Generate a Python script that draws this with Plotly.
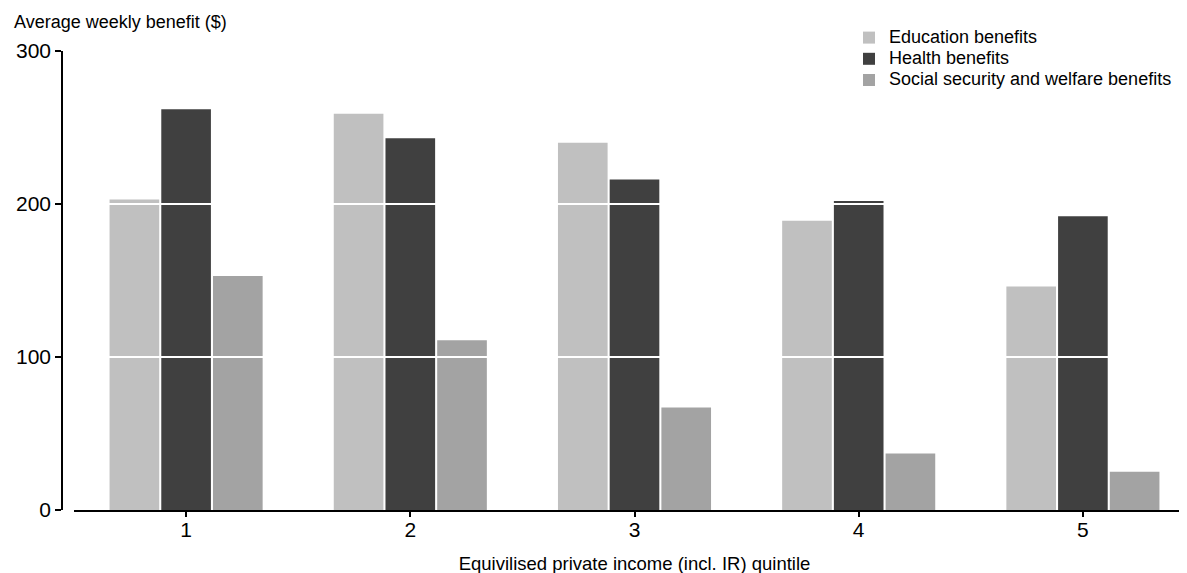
import plotly.graph_objects as go

quintiles = ["1", "2", "3", "4", "5"]
education = [203, 259, 240, 189, 146]
health = [262, 243, 216, 202, 192]
social = [153, 111, 67, 37, 25]
series_names = ["Education benefits", "Health benefits", "Social security and welfare benefits"]
series_colors = ["#c0c0c0", "#404040", "#a3a3a3"]
y_ticks = [0, 100, 200, 300]

W, H = 1187, 573
OFF = 8  # page body margin offset
ML, MR, MT, MB = 62 - OFF, 0, 51 - OFF, 573 - 510 + OFF
FONT = "Liberation Sans, Arial, sans-serif"

fig = go.Figure()
for name, vals, col in zip(series_names, [education, health, social], series_colors):
    fig.add_trace(go.Bar(x=quintiles, y=vals, name=f'<span style="font-size:18px">{name}</span>',
                         marker=dict(color=col, line=dict(width=0))))

plot_w = W - ML - MR
plot_h = H - MT - MB
x_start = (74 - OFF - ML) / plot_w

# white gridlines drawn on top of bars
for t in y_ticks[1:-1]:
    fig.add_shape(type="line", xref="paper", yref="y", x0=x_start, x1=1, y0=t, y1=t,
                  line=dict(color="white", width=2), layer="above")

fig.add_annotation(text="Average weekly benefit ($)", xref="paper", yref="paper",
                   x=(12 - OFF - ML) / plot_w, y=1, xanchor="left", yanchor="middle", yshift=29,
                   showarrow=False, font=dict(family=FONT, size=18, color="black"))

leg_top = 37 - OFF - 15
fig.update_layout(
    width=W, height=H,
    margin=dict(l=ML, r=MR, t=MT, b=MB, pad=0, autoexpand=False),
    paper_bgcolor="white", plot_bgcolor="white",
    font=dict(family=FONT, size=18, color="black"),
    barmode="group", bargap=0.308, bargroupgap=0.04,
    showlegend=True,
    legend=dict(x=(889 - OFF - 40 - ML) / plot_w, y=(H - MB - leg_top) / plot_h,
                xanchor="left", yanchor="top",
                bgcolor="rgba(0,0,0,0)", font=dict(family=FONT, size=14, color="black"),
                tracegroupgap=0, itemwidth=30),
    xaxis=dict(domain=[x_start, 1], range=[-0.5, 4.5], type="category",
               showline=True, linecolor="black", linewidth=2,
               ticks="outside", ticklen=5, tickwidth=2, tickcolor="black",
               ticklabelstandoff=-5,
               showgrid=False, zeroline=False,
               title=dict(text="Equivilised private income (incl. IR) quintile", standoff=17,
                          font=dict(family=FONT, size=18.5)),
               tickfont=dict(family=FONT, size=21)),
    yaxis=dict(range=[0, 300], tickvals=y_ticks, anchor="free", position=0,
               showline=True, linecolor="black", linewidth=1.5,
               ticks="outside", ticklen=6, tickwidth=1.5, tickcolor="black",
               showgrid=False, zeroline=False,
               tickfont=dict(family=FONT, size=21)),
)

fig.write_html("out.html")
